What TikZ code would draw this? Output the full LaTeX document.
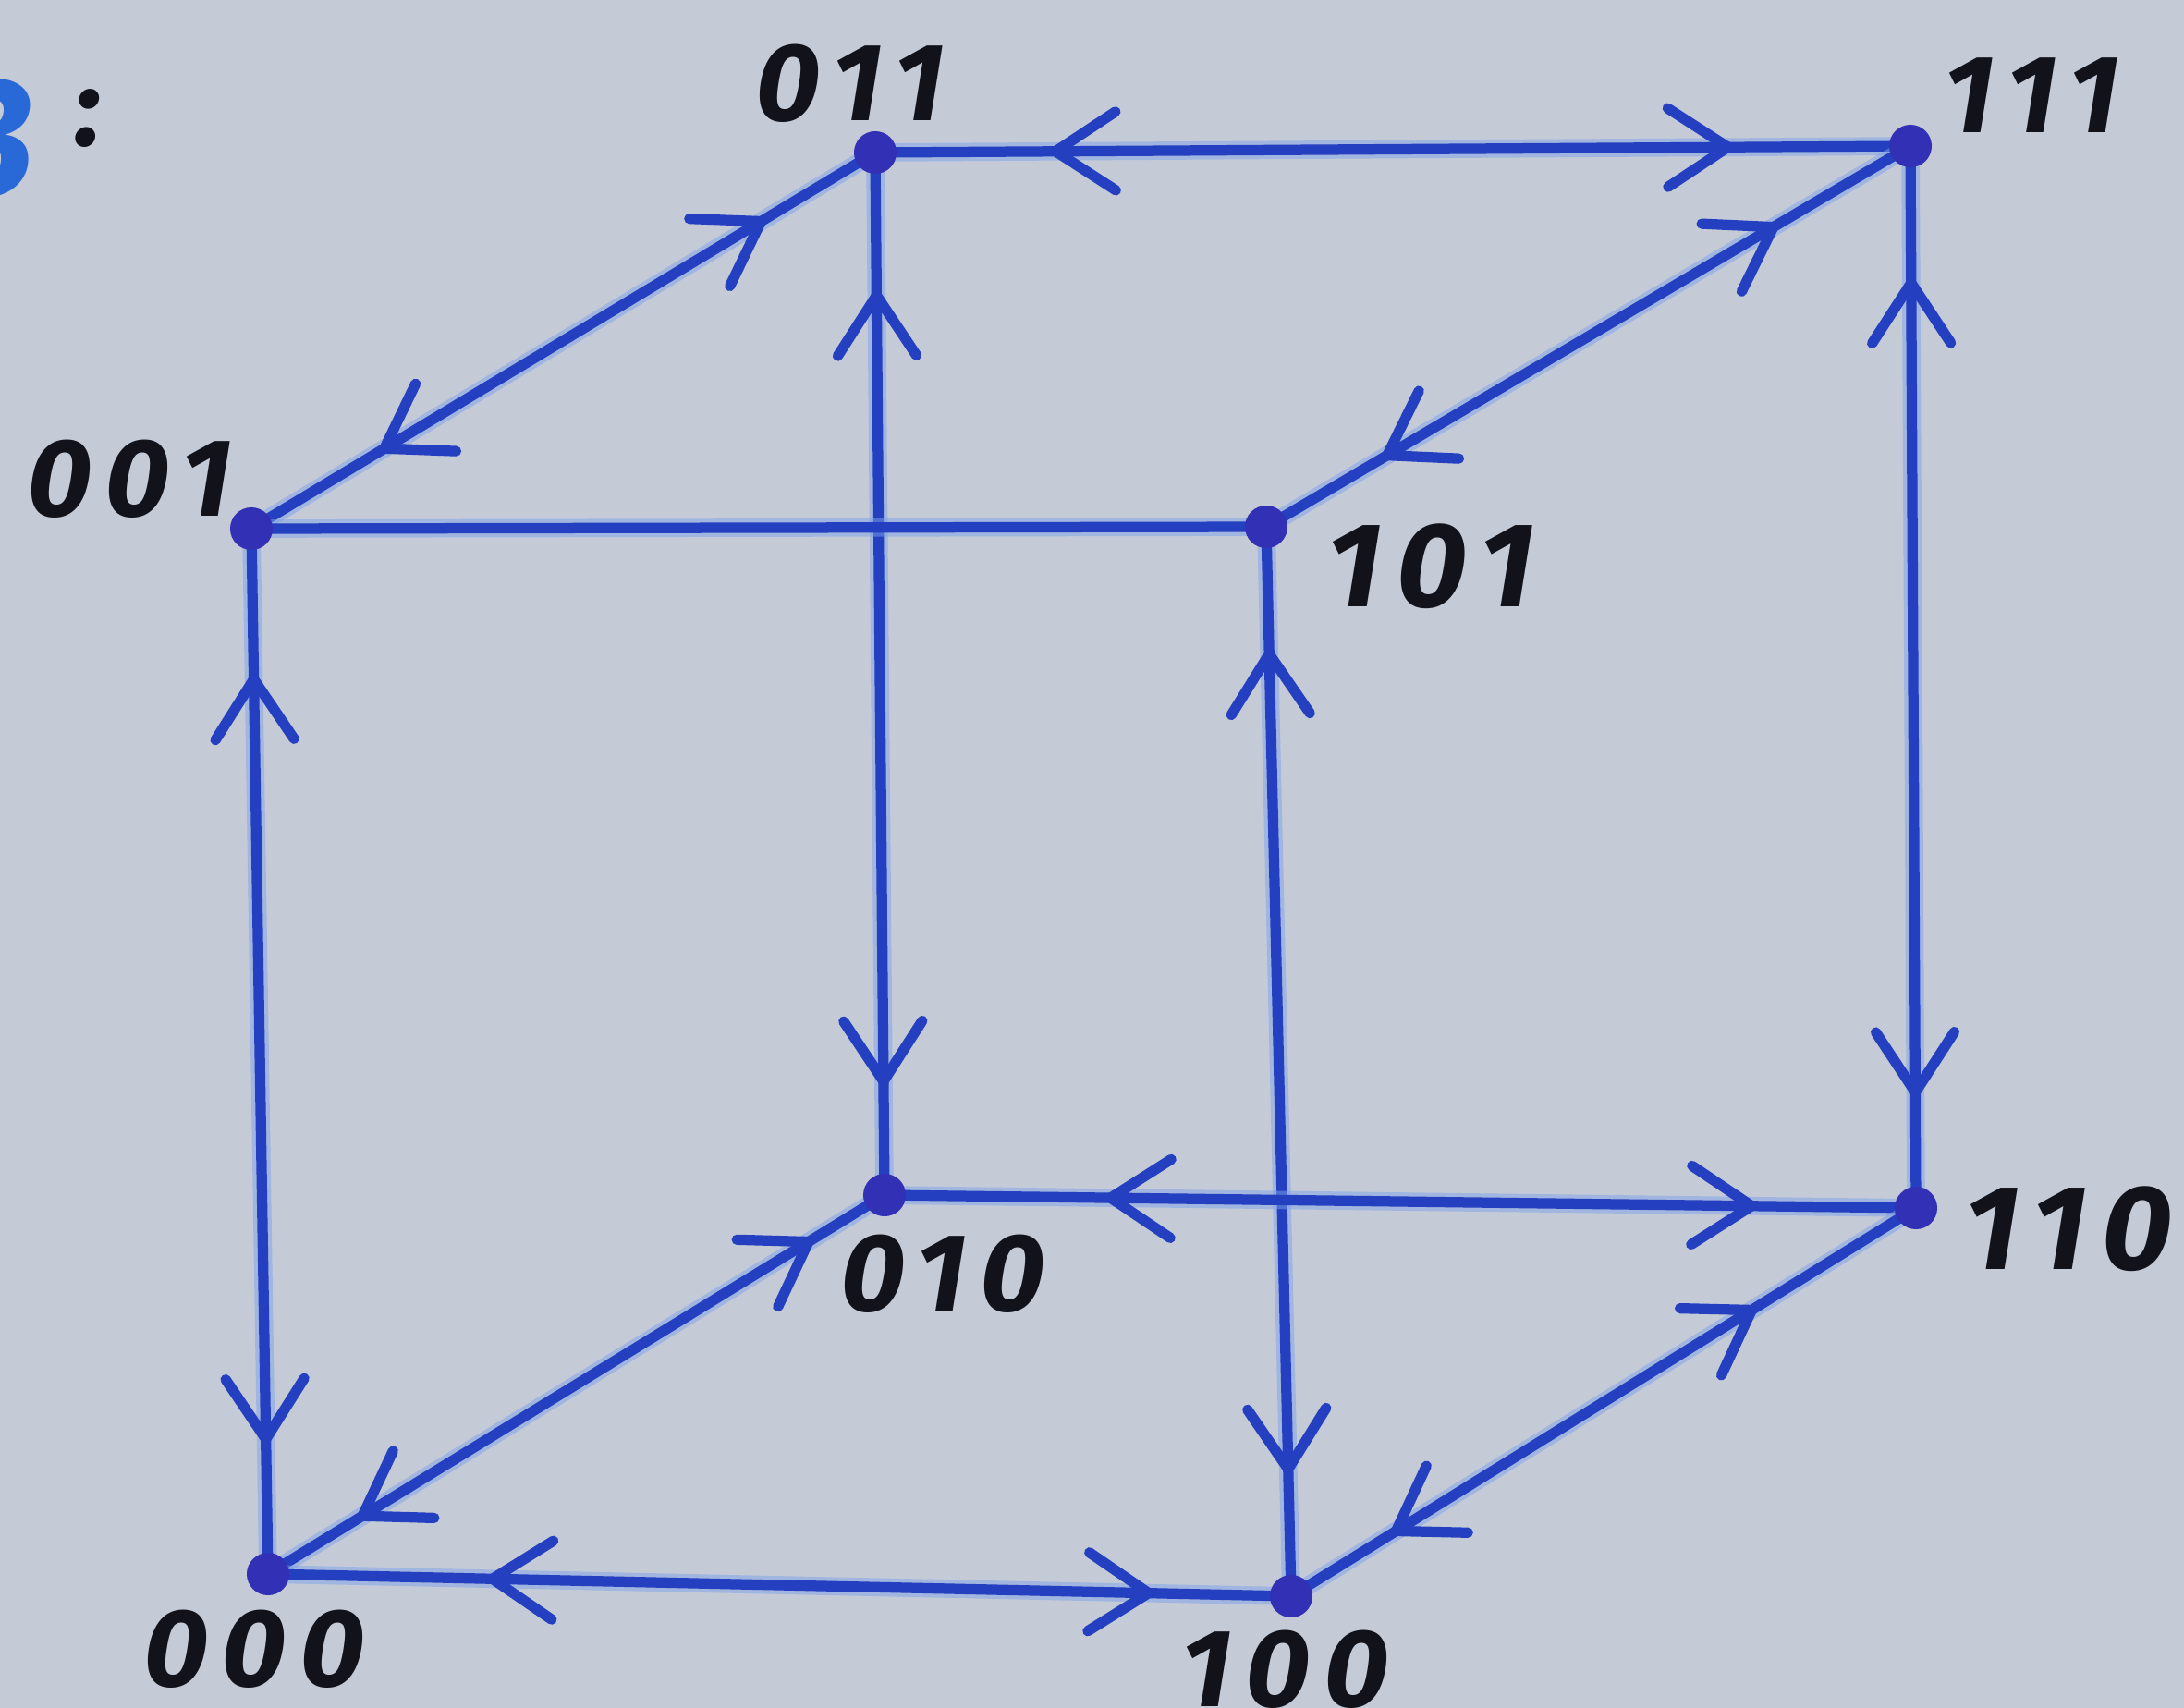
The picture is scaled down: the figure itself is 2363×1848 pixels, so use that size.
\documentclass[tikz,border=0pt]{standalone}
\usepackage{fontspec}
\newfontfamily\labfont[FakeSlant=0.16, LetterSpace=12]{Fira Sans}
\newfontfamily\threefont[FakeSlant=0.1]{Fira Sans}
\usetikzlibrary{arrows.meta,decorations.markings}
\definecolor{paper}{RGB}{196,203,215}
\definecolor{ink}{RGB}{36,64,192}
\definecolor{dotc}{RGB}{50,48,180}
\definecolor{halo}{RGB}{125,160,232}
\definecolor{pen}{RGB}{18,18,26}
\definecolor{inkthree}{RGB}{40,105,215}
\begin{document}
\begin{tikzpicture}[x=0.01cm,y=-0.01cm,
  barb/.tip={Straight Barb[length=6.5mm, width=8.5mm, line cap=round]},
  vtx/.style={circle, fill=dotc, inner sep=0pt, minimum size=0.46cm},
  lab/.style={text=pen, font=\labfont\bfseries\fontsize{34}{38}\selectfont, inner sep=0pt},
  biglab/.style={lab, font=\labfont\bfseries\fontsize{37}{41}\selectfont},
  edge/.style={draw=ink, color=ink, line width=3.2pt, line cap=round,
    preaction={draw=halo, line width=5.6pt, opacity=0.5}},
  bi/.style 2 args={postaction={decorate, decoration={markings,
      mark=at position #1 with {\arrowreversed{barb}},
      mark=at position #2 with {\arrow{barb}}}}}
]
\useasboundingbox (0,0) rectangle (2363,1848);
\clip (0,0) rectangle (2363,1848);
\fill[paper] (0,0) rectangle (2363,1848);

% heading remnant
\node[anchor=east, text=inkthree, font=\threefont\bfseries\fontsize{52}{52}\selectfont, inner sep=0pt] (three) at (34,150) {3};
\node[text=pen, font=\threefont\bfseries\fontsize{34}{38}\selectfont, inner sep=0pt] (colon) at (92,128) {:};

% vertices
\coordinate (v011) at (947,165);
\coordinate (v111) at (2067,158);
\coordinate (v001) at (272,572);
\coordinate (v101) at (1370,570);
\coordinate (v010) at (957,1293);
\coordinate (v110) at (2073,1307);
\coordinate (v000) at (290,1703);
\coordinate (v100) at (1397,1727);

% edges
\draw[edge, bi={0.165}{0.833}] (v011) -- (v111);
\draw[edge, bi={0.17}{0.80}] (v011) -- (v001);
\draw[edge, bi={0.128}{0.90}] (v011) -- (v010);
\draw[edge, bi={0.20}{0.825}] (v111) -- (v101);
\draw[edge, bi={0.12}{0.90}] (v111) -- (v110);
\draw[edge] (v001) -- (v101);
\draw[edge, bi={0.135}{0.88}] (v001) -- (v000);
\draw[edge, bi={0.11}{0.89}] (v101) -- (v100);
\draw[edge, bi={0.21}{0.85}] (v010) -- (v110);
\draw[edge, bi={0.11}{0.86}] (v010) -- (v000);
\draw[edge, bi={0.25}{0.845}] (v110) -- (v100);
\draw[edge, bi={0.21}{0.87}] (v000) -- (v100);

% dots
\node[vtx] (n011) at (v011) {};
\node[vtx] (n111) at (v111) {};
\node[vtx] (n001) at (v001) {};
\node[vtx] (n101) at (v101) {};
\node[vtx] (n010) at (v010) {};
\node[vtx] (n110) at (v110) {};
\node[vtx] (n000) at (v000) {};
\node[vtx] (n100) at (v100) {};

% labels
\node[lab] (l011) at (915,90) {011};
\node[lab] (l111) at (2193,103) {111};
\node[lab] (l001) at (135,518) {001};
\node[biglab] (l101) at (1542,613) {101};
\node[lab] (l010) at (1015,1378) {010};
\node[biglab] (l110) at (2232,1330) {110};
\node[lab] (l000) at (270,1784) {000};
\node[lab] (l100) at (1385,1806) {100};
\end{tikzpicture}
\end{document}
